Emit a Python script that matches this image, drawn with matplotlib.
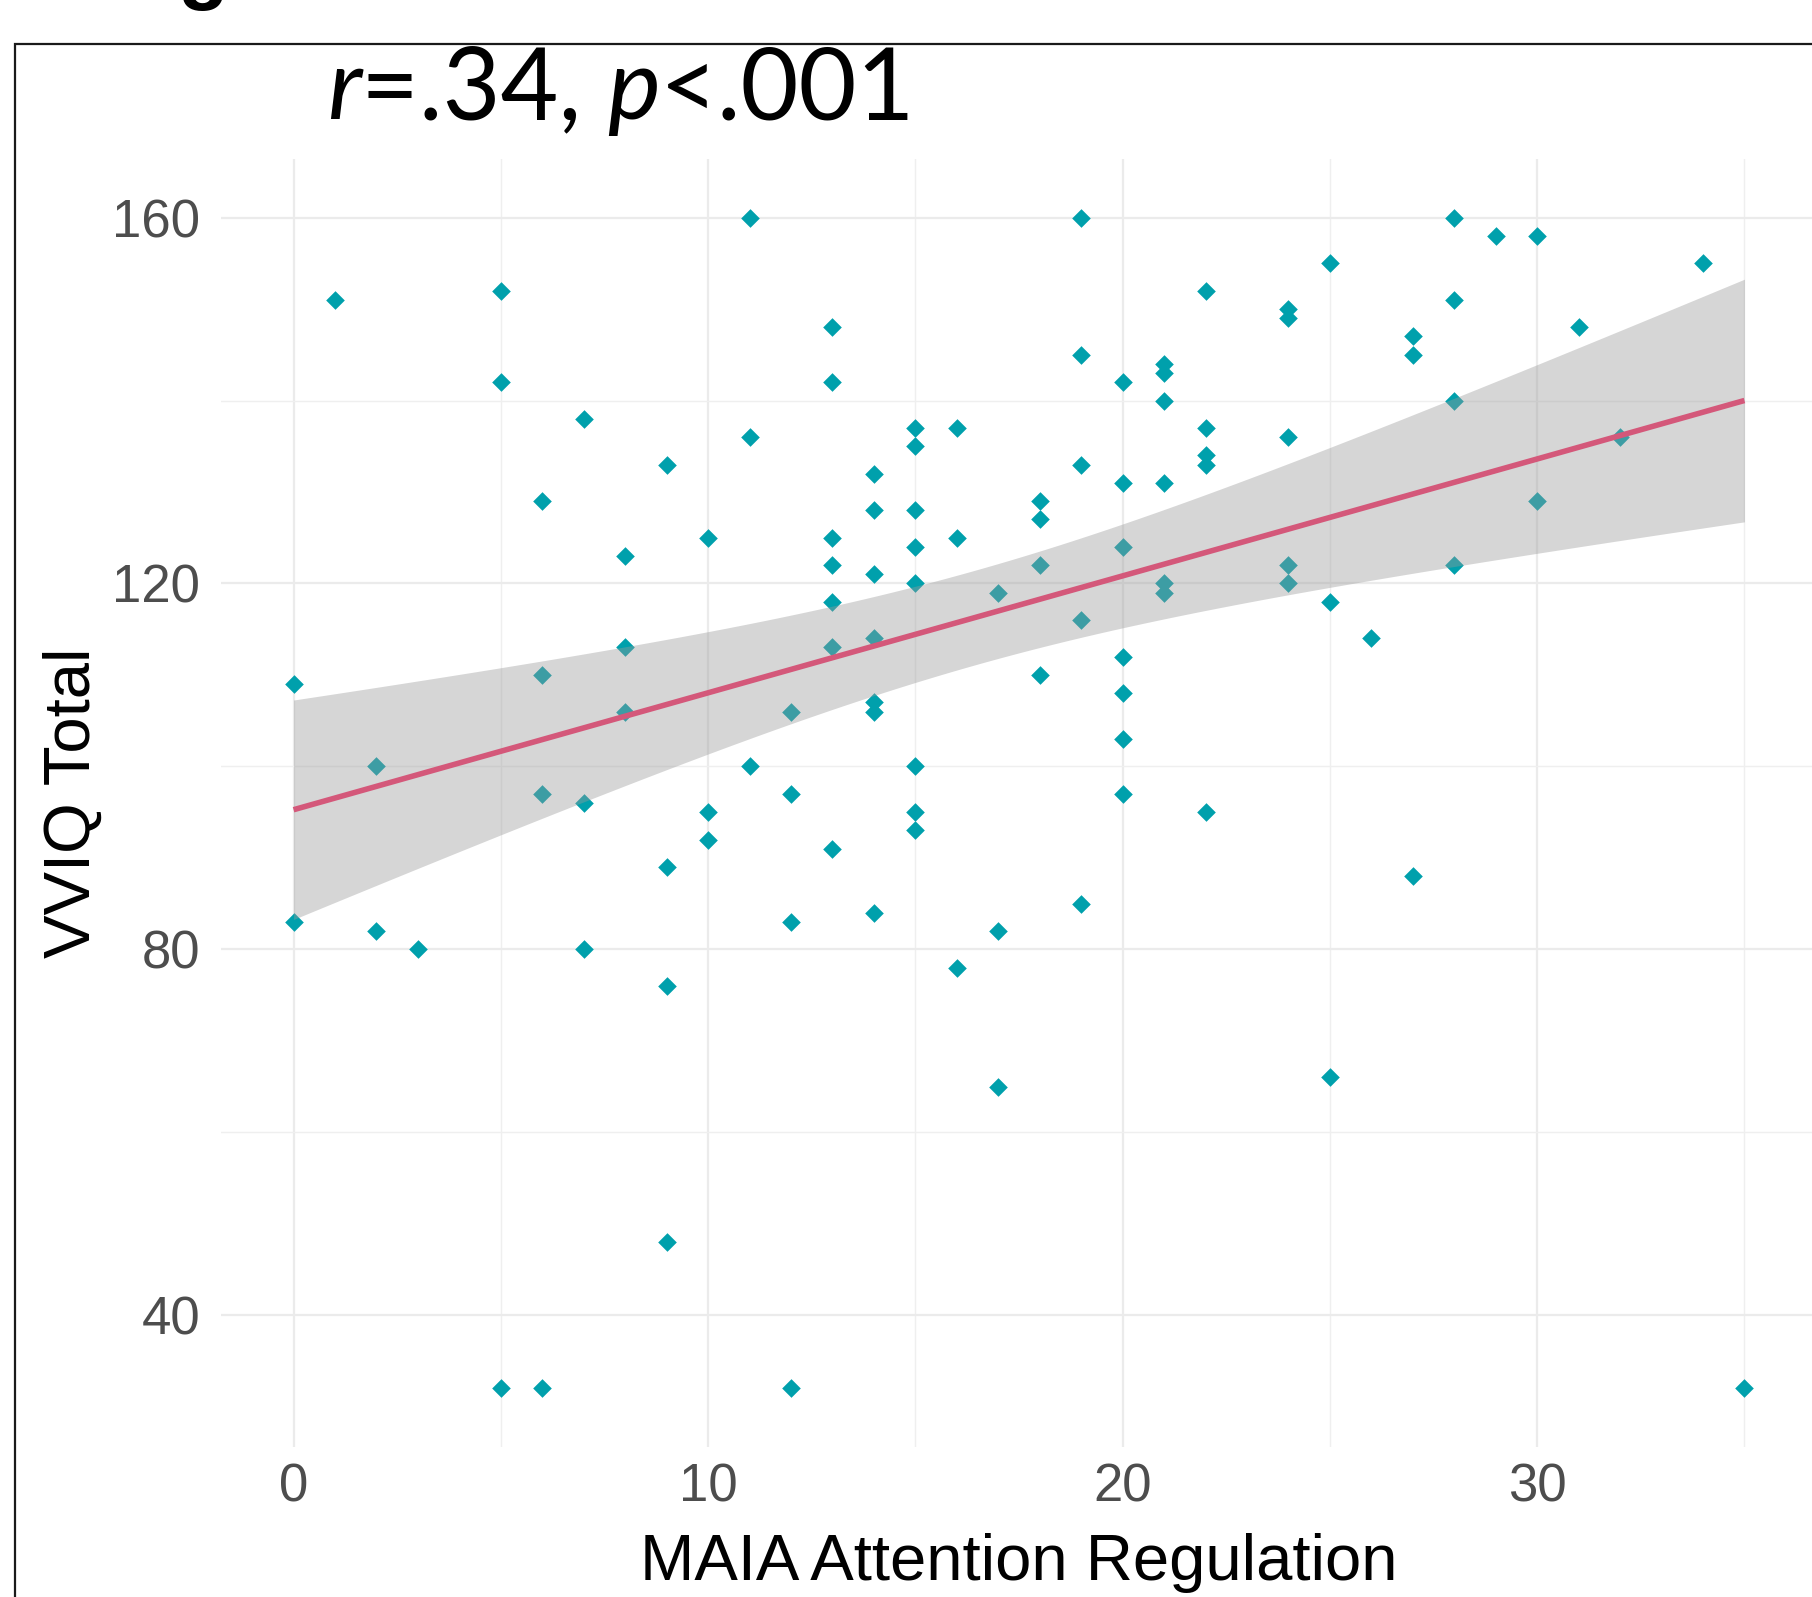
import numpy as np
import matplotlib
matplotlib.use("Agg")
import matplotlib.pyplot as plt
from matplotlib.patches import Rectangle

plt.rcParams['font.family'] = ['Liberation Sans', 'DejaVu Sans']

# MAIA Attention Regulation score and VVIQ total
maia = [0, 0, 1, 2, 2, 3,
        5, 5, 5, 6, 6, 6, 6, 7, 7, 7, 8, 8, 8,
        9, 9, 9, 9, 10, 10, 10, 11, 11, 11, 12, 12, 12, 12,
        13, 13, 13, 13, 13, 13, 13,
        14, 14, 14, 14, 14, 14, 14,
        15, 15, 15, 15, 15, 15, 15, 15,
        16, 16, 16, 17, 17, 17, 18, 18, 18, 18,
        19, 19, 19, 19, 19,
        20, 20, 20, 20, 20, 20, 20,
        21, 21, 21, 21, 21, 21,
        22, 22, 22, 22, 22,
        24, 24, 24, 24, 24, 25, 25, 25, 26, 27, 27, 27,
        28, 28, 28, 28, 29, 30, 30, 31, 32, 34, 35]
vviq = [109, 83, 151, 100, 82, 80,
        152, 142, 32, 129, 110, 97, 32, 138, 96, 80, 123, 113, 106,
        133, 89, 76, 48, 125, 95, 92, 160, 136, 100, 106, 97, 83, 32,
        148, 142, 125, 122, 118, 113, 91,
        132, 128, 121, 114, 107, 106, 84,
        137, 135, 128, 124, 120, 100, 95, 93,
        137, 125, 78, 119, 82, 65, 129, 127, 122, 110,
        160, 145, 133, 116, 85,
        142, 131, 124, 112, 108, 103, 97,
        144, 143, 140, 131, 120, 119,
        152, 137, 134, 133, 95,
        150, 149, 136, 122, 120, 155, 118, 66, 114, 147, 145, 88,
        160, 151, 140, 122, 158, 158, 129, 148, 136, 155, 32]

x_major = [0, 10, 20, 30]
x_minor = [5, 15, 25, 35]
y_major = [40, 80, 120, 160]
y_minor = [60, 100, 140]

POINT = '#00A0AC'
LINE = '#D4587A'
T95 = 1.982  # t quantile, df = n - 2

W, H = 1812, 1597
fig = plt.figure(figsize=(W / 100, H / 100), dpi=100, facecolor='white')

# panel placed in pixel terms, right edge runs off the picture like the crop
left, right, top, bottom = 221, 1817, 159, 1447
ax = fig.add_axes([left / W, 1 - bottom / H, (right - left) / W, (bottom - top) / H])
ax.set_facecolor('none')

x = np.array(maia, dtype=float)
y = np.array(vviq, dtype=float)

# linear fit with 95% confidence band, like geom_smooth(method = "lm")
slope, icpt = np.polyfit(x, y, 1)
n = len(x)
resid = y - (icpt + slope * x)
s = np.sqrt(np.sum(resid ** 2) / (n - 2))
sxx = np.sum((x - x.mean()) ** 2)
xs = np.linspace(x.min(), x.max(), 200)
fit = icpt + slope * xs
half = T95 * s * np.sqrt(1 / n + (xs - x.mean()) ** 2 / sxx)

ax.scatter(x, y, marker='D', s=90, color=POINT, linewidths=0, zorder=3)
ax.fill_between(xs, fit - half, fit + half, color='#999999', alpha=0.4,
                linewidth=0, zorder=4)
ax.plot(xs, fit, color=LINE, lw=4.0, zorder=5, solid_capstyle='butt')

ax.set_xlim(-1.75, 36.75)
ax.set_ylim(25.6, 166.4)
ax.set_xticks(x_major)
ax.set_xticks(x_minor, minor=True)
ax.set_yticks(y_major)
ax.set_yticks(y_minor, minor=True)
ax.grid(which='major', color='#EBEBEB', lw=1.6, zorder=0)
ax.grid(which='minor', color='#EFEFEF', lw=1.0, zorder=0)
ax.set_axisbelow(True)
for sp in ax.spines.values():
    sp.set_visible(False)
ax.tick_params(which='both', length=0, labelsize=38, labelcolor='#4D4D4D')
ax.tick_params(axis='x', pad=11)
ax.tick_params(axis='y', pad=15)

fig.text(1019 / W, 1 - 1580 / H, 'MAIA Attention Regulation', fontsize=47,
         ha='center', va='baseline', color='black')
fig.text(90 / W, 1 - 803 / H, 'VVIQ Total', fontsize=47, rotation=90,
         rotation_mode='anchor', ha='center', va='baseline', color='black')

# statistics annotation, italic r and p pieces chained one after another
ann_font = dict(fontsize=72, family=['Lato', 'DejaVu Sans'], color='black')
pieces = [('r', 'italic'), ('=.34, ', 'normal'), ('p', 'italic'), ('<.001', 'normal')]
prev = fig.text(327 / W, 1 - 119 / H, pieces[0][0], style=pieces[0][1],
                ha='left', va='baseline', **ann_font)
for txt, st in pieces[1:]:
    prev = ax.annotate(txt, xy=(1, 0), xycoords=prev, ha='left', va='bottom',
                       style=st, annotation_clip=False, **ann_font)

# cropped panel letter at the very top
fig.text(203 / W, 1 + 6 / H, 'g', fontsize=60, weight='bold', ha='center',
         va='baseline', color='black')

# outer panel border from the multi-panel figure, cut off at right and bottom
fig.add_artist(Rectangle((15 / W, -0.1), 2, 1.1 - 44 / H, transform=fig.transFigure,
                         fill=False, edgecolor='#1A1A1A', lw=1.6))

fig.savefig('out.png', dpi=100, facecolor='white')
